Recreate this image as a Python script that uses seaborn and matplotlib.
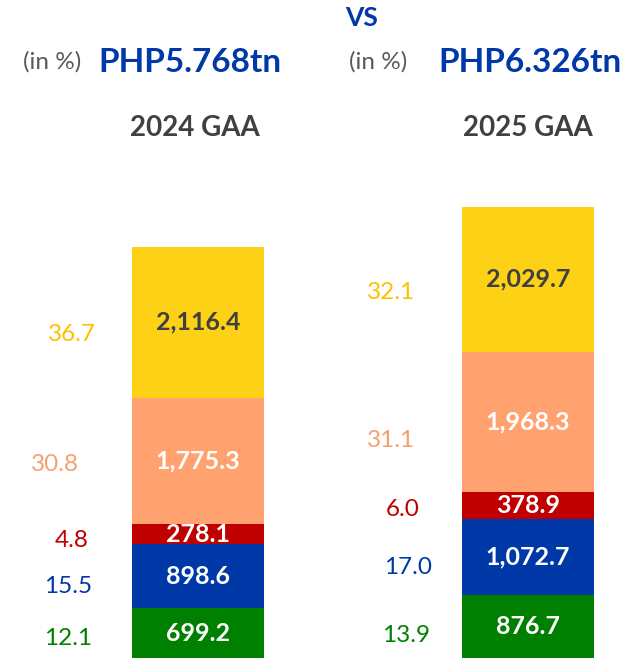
import matplotlib
matplotlib.use("Agg")
import matplotlib.pyplot as plt
import seaborn as sns
import pandas as pd
import numpy as np

# Budget allocation by sector (PHP billion), bottom to top of each stack
years = ["2024 GAA", "2025 GAA"]
sectors = ["Green", "Blue", "Red", "Peach", "Yellow"]
values_2024 = [699.2, 898.6, 278.1, 1775.3, 2116.4]
values_2025 = [876.7, 1072.7, 378.9, 1968.3, 2029.7]
shares_2024 = ["12.1", "15.5", "4.8", "30.8", "36.7"]
shares_2025 = ["13.9", "17.0", "6.0", "31.1", "32.1"]
totals_text = ["PHP5.768tn", "PHP6.326tn"]

seg_colors = ["#008000", "#0038A8", "#C00000", "#FFA270", "#FCD116"]
share_colors = ["#008000", "#0038A8", "#C00000", "#F4A070", "#FFC000"]
value_text_colors = ["white", "white", "white", "white", "#404040"]

sns.set_theme(style="white")
plt.rcParams["font.family"] = ["Lato", "DejaVu Sans"]

W, H = 630, 658
fig = plt.figure(figsize=(W / 100, H / 100), dpi=100)
ax = fig.add_axes([0, 0, 1, 1])

vals = np.array([values_2024, values_2025])
cum = np.cumsum(vals, axis=1)

# Draw stacks as overlaid cumulative bars, tallest first
for k in range(len(sectors) - 1, -1, -1):
    df = pd.DataFrame({"year": years, "total": cum[:, k]})
    sns.barplot(data=df, x="year", y="total", color=seg_colors[k],
                saturation=1, width=0.4, ax=ax, linewidth=0)

ax.set_xlim(-0.6, 1.309)
ax.set_ylim(0, 9228)
ax.axis("off")

# Per-label placement of share labels (pixel offsets from segment centre)
share_offsets = [
    [(-130, -5), (-130, -10), (-126, -6), (-143, -4), (-126, -12)],
    [(-122, -9), (-120, -10), (-125, -4), (-137, -19), (-137, -13)],
]
shares = [shares_2024, shares_2025]

for i in range(2):
    bottom = 0.0
    for k in range(len(sectors)):
        v = vals[i, k]
        mid = bottom + v / 2
        ax.text(i, mid, f"{v:,.1f}", ha="center", va="center",
                fontsize=18, fontweight="bold", color=value_text_colors[k])
        dx, dy = share_offsets[i][k]
        ax.annotate(shares[i][k], xy=(i, mid), xytext=(dx, dy),
                    textcoords="offset pixels", ha="center", va="center",
                    fontsize=17.5, color=share_colors[k])
        bottom += v


def fx(px):
    return px / W


def fy(py):
    return 1 - py / H


blue = "#0038A8"
fig.text(fx(362), fy(18), "VS", ha="center", va="center", fontsize=19,
         fontweight="bold", color=blue)
for cx_in, cx_tot, cx_year, ttl, yr in [(52, 190, 195, totals_text[0], years[0]),
                                        (378, 530, 528, totals_text[1], years[1])]:
    fig.text(fx(cx_in), fy(62), "(in %)", ha="center", va="center",
             fontsize=17.5, color="#595959")
    fig.text(fx(cx_tot), fy(62), ttl, ha="center", va="center",
             fontsize=24, fontweight="bold", color=blue)
    fig.text(fx(cx_year), fy(128), yr, ha="center", va="center",
             fontsize=20, fontweight="bold", color="#404040")

fig.savefig("out.png", dpi=100)
